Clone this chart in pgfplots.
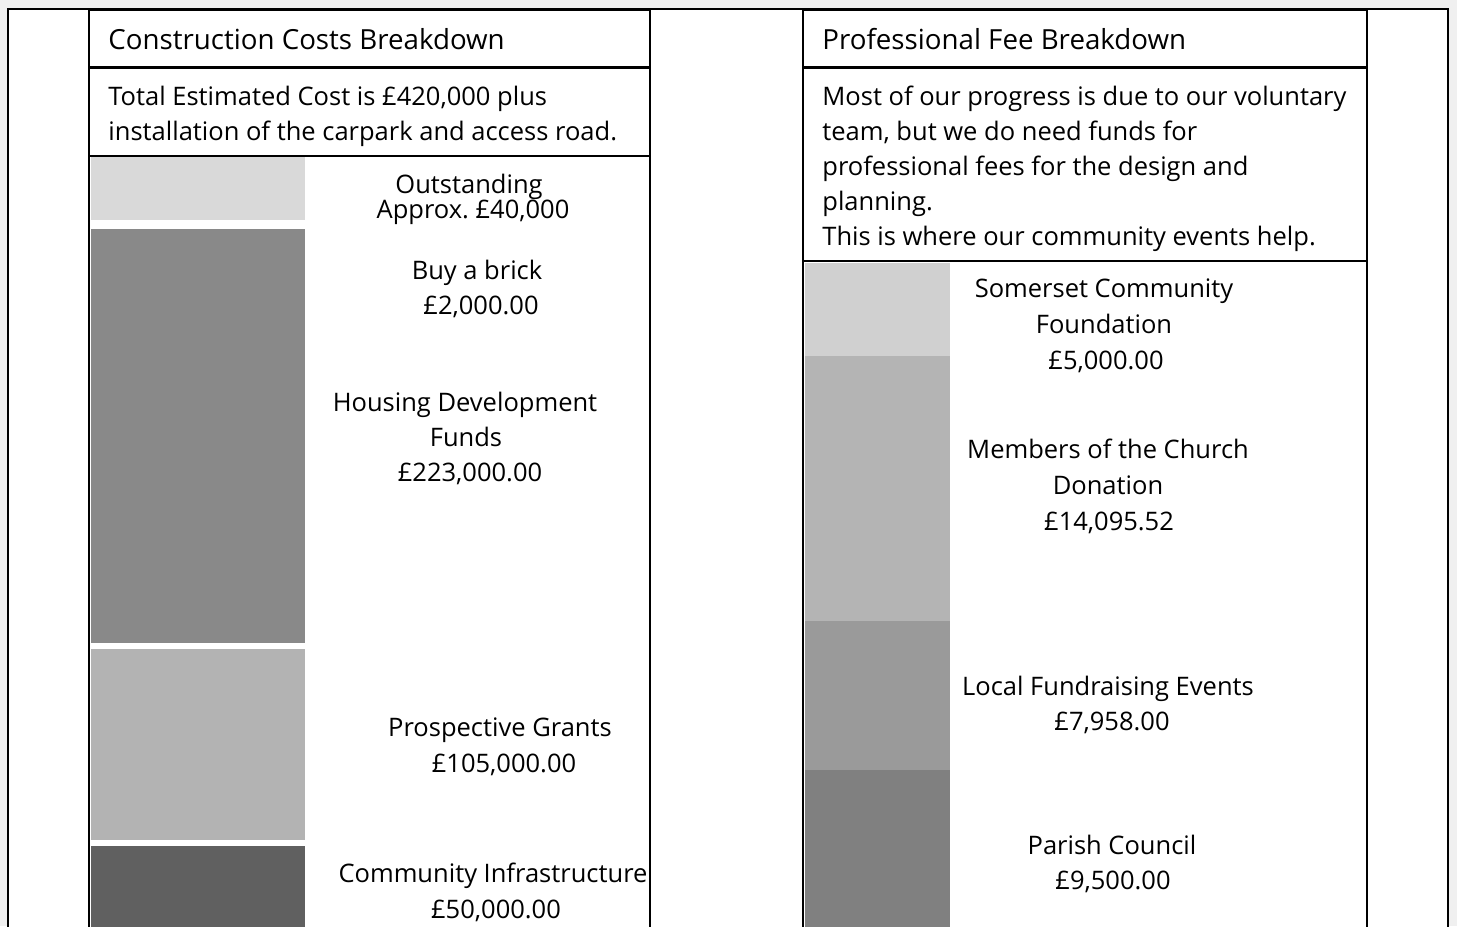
\documentclass[border=0pt]{standalone}
\usepackage{fontspec}
\setmainfont{Open Sans}
\usepackage{pgfplots}
\pgfplotsset{compat=1.18}
\definecolor{bgc}{RGB}{240,240,240}
\definecolor{cOut}{RGB}{217,217,217}
\definecolor{cHouse}{RGB}{137,137,137}
\definecolor{cGrant}{RGB}{179,179,179}
\definecolor{cInfra}{RGB}{96,96,96}
\definecolor{cSom}{RGB}{208,208,208}
\definecolor{cMem}{RGB}{180,180,180}
\definecolor{cLoc}{RGB}{154,154,154}
\definecolor{cPar}{RGB}{128,128,128}
\begin{document}
\frenchspacing
\begin{tikzpicture}[x=0.5bp,y=-0.5bp]
\fill[bgc] (0,0) rectangle (1457,926);
\clip (0,0) rectangle (1457,926);
\fill[white] (8,9) rectangle (1448,940);
\coordinate (L) at (88,157);
\coordinate (R) at (805,263);
% Construction costs: stacked column, bottom to top
\begin{axis}[at={(L)}, anchor=north west, scale only axis,
  width=110bp, height=390bp, xmin=-0.5, xmax=0.5,
  ymin=0, ymax=414960, axis lines=none, ybar stacked, bar width=1,
  enlargelimits=false]
\addplot[fill=cInfra, draw=white, line width=3bp] coordinates {(0,50000)};
\addplot[fill=cGrant, draw=white, line width=3bp] coordinates {(0,105000)};
\addplot[fill=cHouse, draw=white, line width=3bp] coordinates {(0,223000)};
\addplot[fill=cHouse, draw=white, line width=3bp] coordinates {(0,2000)};
\addplot[fill=cOut, draw=white, line width=3bp] coordinates {(0,40000)};
\end{axis}
% Professional fees
\begin{axis}[at={(R)}, anchor=north west, scale only axis,
  width=72.5bp, height=342.6bp, xmin=-0.5, xmax=0.5,
  ymin=0, ymax=36520, axis lines=none, ybar stacked, bar width=1,
  enlargelimits=false]
\addplot[fill=cPar, draw=none] coordinates {(0,9500)};
\addplot[fill=cLoc, draw=none] coordinates {(0,7958)};
\addplot[fill=cMem, draw=none] coordinates {(0,14095.52)};
\addplot[fill=cSom, draw=none] coordinates {(0,5000)};
\end{axis}
% frames
\draw[line width=1bp] (8,940) -- (8,9) -- (1448,9) -- (1448,940);
\draw[line width=1bp] (89,940) -- (89,10) -- (650,10) -- (650,940);
\draw[line width=1.6bp] (89,67.5) -- (650,67.5);
\draw[line width=1bp] (89,156) -- (650,156);
\draw[line width=1bp] (803,940) -- (803,10) -- (1367,10) -- (1367,940);
\draw[line width=1.6bp] (803,67.5) -- (1367,67.5);
\draw[line width=1bp] (803,261) -- (1367,261);
% texts
\begin{scope}[every node/.style={inner sep=0pt, font=\fontsize{12.8}{15}\selectfont}]
\node[anchor=base west, font=\fontsize{13.9}{15}\selectfont] at (108,49) {Construction Costs Breakdown};
\node[anchor=base west, font=\fontsize{13.9}{15}\selectfont] at (822,49) {Professional Fee Breakdown};
\node[anchor=base west] at (108,105) {Total Estimated Cost is £420,000 plus};
\node[anchor=base west] at (108,140) {installation of the carpark and access road.};
\node[anchor=base west] at (822,105) {Most of our progress is due to our voluntary};
\node[anchor=base west] at (822,140) {team, but we do need funds for};
\node[anchor=base west] at (822,175) {professional fees for the design and};
\node[anchor=base west] at (822,210) {planning.};
\node[anchor=base west] at (822,245) {This is where our community events help.};
\node[anchor=base] at (469,193) {Outstanding};
\node[anchor=base] at (473,218) {Approx. £40,000};
\node[anchor=base] at (477,279) {Buy a brick};
\node[anchor=base] at (481,314) {£2,000.00};
\node[anchor=base] at (465,411) {Housing Development};
\node[anchor=base] at (466,446) {Funds};
\node[anchor=base] at (470,481) {£223,000.00};
\node[anchor=base] at (500,736) {Prospective Grants};
\node[anchor=base] at (504,772) {£105,000.00};
\node[anchor=base] at (493,882) {Community Infrastructure};
\node[anchor=base] at (496,918) {£50,000.00};
\node[anchor=base] at (1104,297) {Somerset Community};
\node[anchor=base] at (1104,333) {Foundation};
\node[anchor=base] at (1106,369) {£5,000.00};
\node[anchor=base] at (1108,458) {Members of the Church};
\node[anchor=base] at (1108,494) {Donation};
\node[anchor=base] at (1109,530) {£14,095.52};
\node[anchor=base] at (1108,695) {Local Fundraising Events};
\node[anchor=base] at (1112,730) {£7,958.00};
\node[anchor=base] at (1112,854) {Parish Council};
\node[anchor=base] at (1113,889) {£9,500.00};
\end{scope}
\end{tikzpicture}
\end{document}
